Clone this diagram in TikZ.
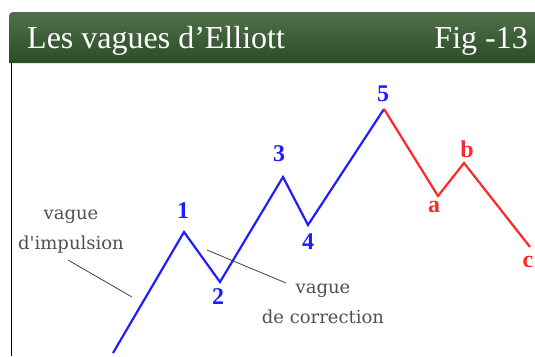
\documentclass[tikz,border=0pt]{standalone}
\usepackage{fontspec}
\setmainfont{Liberation Serif}
\newfontfamily\notefont{DejaVu Serif}
\usetikzlibrary{positioning}
\definecolor{hdtop}{RGB}{80,112,74}
\definecolor{hdmid}{RGB}{60,94,55}
\definecolor{hdbot}{RGB}{42,76,38}
\definecolor{waveblue}{RGB}{30,30,255}
\definecolor{wavered}{RGB}{255,40,40}
\definecolor{notegray}{RGB}{80,80,80}
\begin{document}
\begin{tikzpicture}[x=1pt, y=-1pt,
  impulse/.style={waveblue, line width=2.2pt},
  correction/.style={wavered, line width=2.2pt},
  numlabel/.style={font=\bfseries\fontsize{24}{24}\selectfont, inner sep=0pt},
  note/.style={notegray, font=\notefont\fontsize{18}{30}\selectfont, align=center, inner sep=0pt},
  leader/.style={black!75, line width=0.8pt},
  title/.style={white, font=\fontsize{32}{32}\selectfont, inner sep=0pt}]
  \useasboundingbox (0,0) rectangle (535,356);

  % header bar
  \shade[top color=hdtop, middle color=hdmid, bottom color=hdbot]
    (9,63) [rounded corners=4pt] -- (9,12) [sharp corners] -- (535,12) -- (535,63) -- cycle;
  \node[title, anchor=base west] (ttl) at (27,48) {Les vagues d’Elliott};
  \node[title, anchor=base east] (fig) at (528,48) {Fig -13};

  % left frame line
  \draw[black, line width=1.2pt] (11.5,63) -- (11.5,356);

  % wave points
  \coordinate (w0) at (113,353);
  \coordinate (w1) at (184,232);
  \coordinate (w2) at (220,282);
  \coordinate (w3) at (283,177);
  \coordinate (w4) at (308,225);
  \coordinate (w5) at (384,109);
  \coordinate (wa) at (438,196);
  \coordinate (wb) at (464,163);
  \coordinate (wc) at (530,247);

  % impulse wave and correction
  \draw[impulse] (w0) -- (w1) -- (w2) -- (w3) -- (w4) -- (w5);
  \draw[correction] (w5) -- (wa) -- (wb) -- (wc);

  % wave numbers
  \node[numlabel, waveblue] (n1) at (183,211) {1};
  \node[numlabel, waveblue] (n2) at (218,297) {2};
  \node[numlabel, waveblue] (n3) at (279,154) {3};
  \node[numlabel, waveblue] (n4) at (308,242) {4};
  \node[numlabel, waveblue] (n5) at (383,94) {5};
  \node[numlabel, wavered] (la) at (434,207) {a};
  \node[numlabel, wavered] (lb) at (467,149) {b};
  \node[numlabel, wavered] (lc) at (528,262) {c};

  % notes with leaders
  \node[note] (impnote) at (71,232) {vague\\d'impulsion};
  \node[note] (cornote) at (323,304) {vague\\de correction};
  \coordinate (imp1) at (68,260);
  \coordinate (imp2) at (132,297);
  \coordinate (cor1) at (207,250);
  \coordinate (cor2) at (286,283);
  \draw[leader] (imp1) -- (imp2);
  \draw[leader] (cor1) -- (cor2);
\end{tikzpicture}
\end{document}
